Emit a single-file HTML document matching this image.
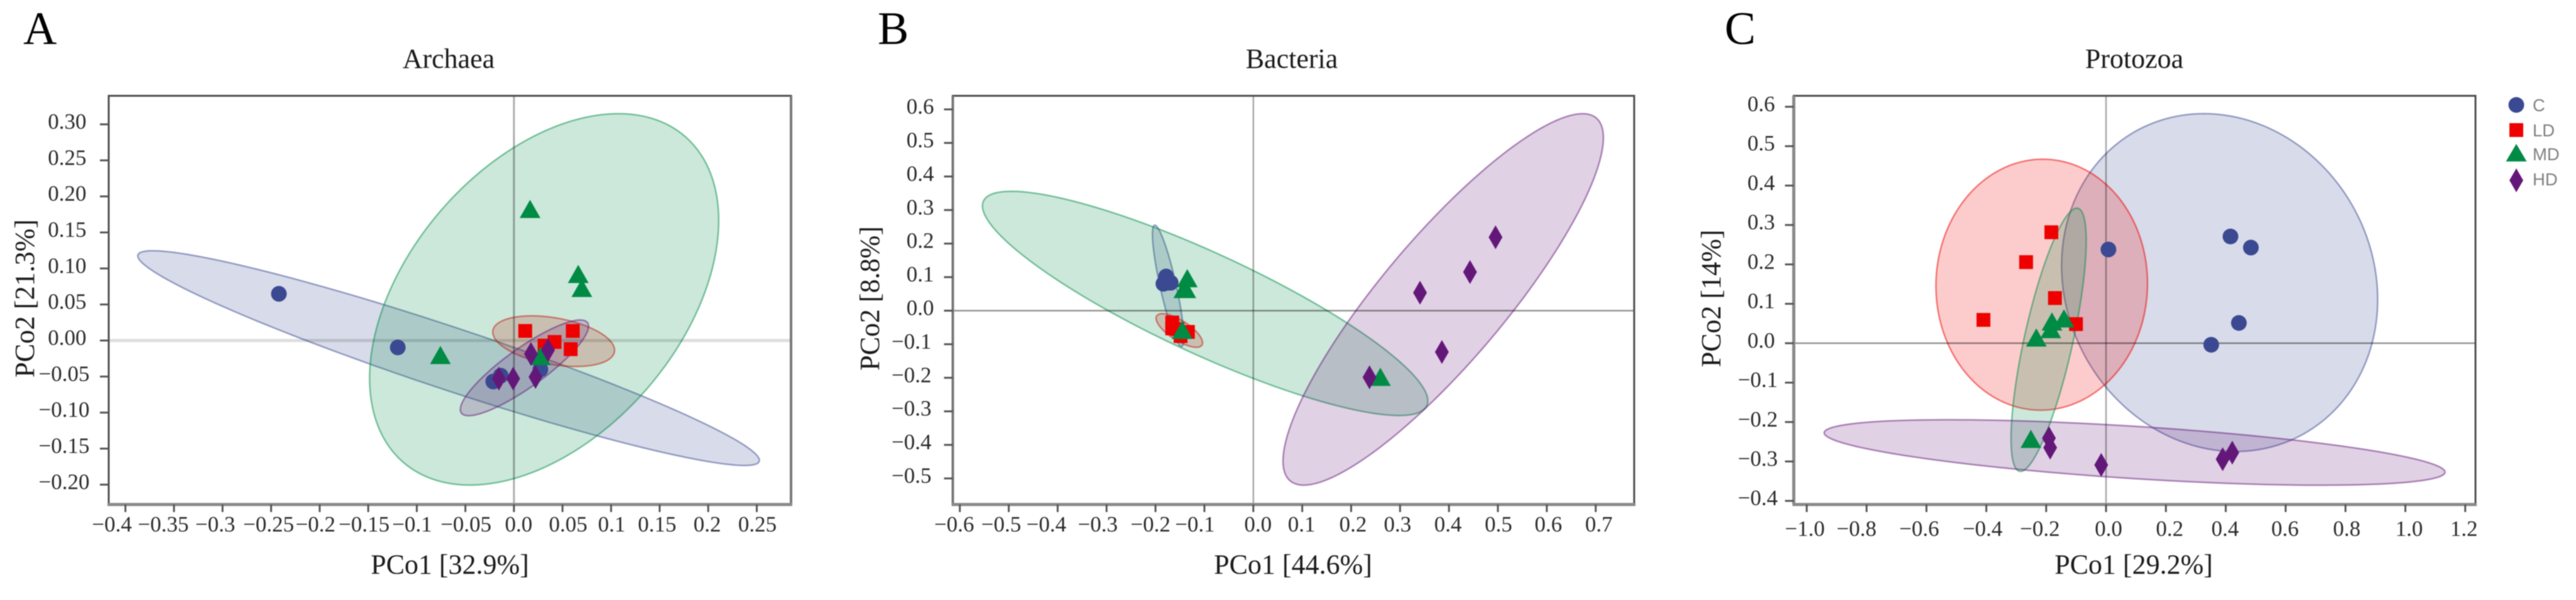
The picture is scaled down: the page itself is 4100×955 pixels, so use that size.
<!DOCTYPE html>
<html lang="en">
<head>
<meta charset="utf-8">
<title>PCoA of Archaea, Bacteria and Protozoa</title>
<style>
html,body{margin:0;padding:0;background:#fff;width:4100px;height:955px;overflow:hidden}
svg{display:block;filter:blur(0.8px)}
text{font-family:"Liberation Serif",serif;fill:#1c1c1c}
.tick{font-size:35px;fill:#2a2a2a}
.axt{font-size:44px;text-anchor:middle;fill:#1a1a1a}
.ttl{font-size:44px;text-anchor:middle;fill:#1a1a1a}
.let{font-size:74px;fill:#000}
.leg{font-family:"Liberation Sans",sans-serif;font-size:27.5px;fill:#808080}
</style>
</head>
<body>
<svg id="fig" width="4100" height="955" viewBox="0 0 4100 955" xmlns="http://www.w3.org/2000/svg">
  <rect width="4100" height="955" fill="#fff"/>
  <text class="let" x="37" y="70">A</text>
  <text class="let" x="1397" y="70">B</text>
  <text class="let" x="2745" y="70">C</text>
  <text class="ttl" x="714" y="108">Archaea</text>
  <text class="ttl" x="2056" y="108">Bacteria</text>
  <text class="ttl" x="3397" y="108">Protozoa</text>
  <text class="axt" x="716" y="913">PCo1 [32.9%]</text>
  <text class="axt" x="2058" y="913">PCo1 [44.6%]</text>
  <text class="axt" x="3396" y="913">PCo1 [29.2%]</text>
  <text class="axt" transform="translate(54 475) rotate(-90)">PCo2 [21.3%]</text>
  <text class="axt" transform="translate(1399 475) rotate(-90)">PCo2 [8.8%]</text>
  <text class="axt" transform="translate(2738 475) rotate(-90)">PCo2 [14%]</text>
  <g id="panels"></g>
  <g>
    <g>
      <circle cx="4005" cy="167" r="12.5" fill="#3B4992"/>
      <text class="leg" x="4031" y="177">C</text>
    </g>
    <g>
      <rect x="3994" y="196" width="22" height="22" fill="#EE0000"/>
      <text class="leg" x="4031" y="217">LD</text>
    </g>
    <g>
      <polygon points="4005,229 4021.5,257 3988.5,257" fill="#008B45"/>
      <text class="leg" x="4031" y="255">MD</text>
    </g>
    <g>
      <polygon points="4005,268 4016,287 4005,306 3994,287" fill="#631879"/>
      <text class="leg" x="4031" y="295">HD</text>
    </g>
  </g>
</svg>
<script>
// ---------- Archaea data ----------
const archaeaXTicks = [-0.4,-0.35,-0.3,-0.25,-0.2,-0.15,-0.1,-0.05,0,0.05,0.1,0.15,0.2,0.25];
const archaeaXLabels = ["−0.4","−0.35","−0.3","−0.25","−0.2","−0.15","−0.1","−0.05","0.0","0.05","0.1","0.15","0.2","0.25"];
const archaeaYTicks = [0.3,0.25,0.2,0.15,0.1,0.05,0,-0.05,-0.1,-0.15,-0.2];
const archaeaYLabels = ["0.30","0.25","0.20","0.15","0.10","0.05","0.00","−0.05","−0.10","−0.15","−0.20"];
const archaeaC = [[-0.242,0.0648],[-0.1196,-0.0096],[-0.0213,-0.0569],[-0.0136,-0.0488],[0.0272,-0.0401]];
const archaeaLD = [[0.0116,0.0133],[0.0315,-0.007],[0.0418,-0.002],[0.0606,0.0133],[0.0584,-0.012]];
const archaeaMD = [[0.0166,0.1826],[0.0662,0.0924],[0.0699,0.073],[-0.0757,-0.02],[0.0272,-0.0215]];
const archaeaHD = [[0.0175,-0.0186],[0.0351,-0.0133],[-0.0155,-0.0529],[-0.0008,-0.0529],[0.0222,-0.0506]];
// ellipse = centre x, centre y, half-range x, half-range y, correlation
const archaeaEllipseC = [-0.0673,-0.0244,0.32,0.149,-0.952];
const archaeaEllipseLD = [0.0409,-0.0009,0.0627,0.0351,-0.36];
const archaeaEllipseMD = [0.0311,0.0571,0.1797,0.2577,0.425];
const archaeaEllipseHD = [0.0108,-0.0379,0.066,0.0664,0.87];

// ---------- Bacteria data ----------
const bacteriaXTicks = [-0.6,-0.5,-0.4,-0.3,-0.2,-0.1,0,0.1,0.2,0.3,0.4,0.5,0.6,0.7];
const bacteriaXLabels = ["−0.6","−0.5","−0.4","−0.3","−0.2","−0.1","0.0","0.1","0.2","0.3","0.4","0.5","0.6","0.7"];
const bacteriaYTicks = [0.6,0.5,0.4,0.3,0.2,0.1,0,-0.1,-0.2,-0.3,-0.4,-0.5];
const bacteriaYLabels = ["0.6","0.5","0.4","0.3","0.2","0.1","0.0","−0.1","−0.2","−0.3","−0.4","−0.5"];
const bacteriaC = [[-0.1783,0.102],[-0.1838,0.0802],[-0.1689,0.0833],[-0.174,0.0833],[-0.178,0.085]];
const bacteriaLD = [[-0.1658,-0.0352],[-0.1658,-0.0528],[-0.1337,-0.0633],[-0.1487,-0.0758],[-0.155,-0.055]];
const bacteriaMD = [[-0.135,0.097],[-0.142,0.0646],[-0.138,0.0646],[-0.1453,-0.0571],[0.2598,-0.197]];
const bacteriaHD = [[0.2375,-0.1984],[0.3408,0.0536],[0.443,0.1152],[0.4952,0.2189],[0.3855,-0.1231]];
const bacteriaEllipseC = [-0.1742,0.074,0.032,0.181,-0.85];
const bacteriaEllipseLD = [-0.1513,-0.059,0.0475,0.05,-0.73];
const bacteriaEllipseMD = [-0.0985,0.0217,0.4553,0.3341,-0.87];
const bacteriaEllipseHD = [0.3882,0.0336,0.3275,0.5536,0.87];

// ---------- Protozoa data ----------
const protozoaXTicks = [-1,-0.8,-0.6,-0.4,-0.2,0,0.2,0.4,0.6,0.8,1,1.2];
const protozoaXLabels = ["−1.0","−0.8","−0.6","−0.4","−0.2","0.0","0.2","0.4","0.6","0.8","1.0","1.2"];
const protozoaYTicks = [0.6,0.5,0.4,0.3,0.2,0.1,0,-0.1,-0.2,-0.3,-0.4];
const protozoaYLabels = ["0.6","0.5","0.4","0.3","0.2","0.1","0.0","−0.1","−0.2","−0.3","−0.4"];
const protozoaC = [[0.008,0.2379],[0.4157,0.2709],[0.4839,0.2427],[0.4438,0.0515],[0.3514,-0.0039]];
const protozoaLD = [[-0.1827,0.2816],[-0.2671,0.2058],[-0.1707,0.1146],[-0.4096,0.0592],[-0.1004,0.0485]];
const protozoaMD = [[-0.1406,0.0631],[-0.1807,0.0553],[-0.1847,0.0359],[-0.2329,0.0146],[-0.251,-0.2427]];
const protozoaHD = [[-0.1908,-0.2408],[-0.1867,-0.265],[-0.0161,-0.3087],[0.3896,-0.2942],[0.4217,-0.2777]];
const protozoaEllipseC = [0.3795,0.1539,0.528,0.4286,-0.1];
const protozoaEllipseLD = [-0.2149,0.1485,0.3534,0.3184,0.01];
const protozoaEllipseMD = [-0.1918,0.0087,0.1255,0.334,0.75];
const protozoaEllipseHD = [0.0954,-0.2772,1.037,0.083,-0.6];

// ---------- Layout (pixels; no data here) ----------
const GROUPS = [
  {key:"c", color:"#3B4992"},
  {key:"ld", color:"#EE0000"},
  {key:"md", color:"#008B45"},
  {key:"hd", color:"#631879"}
];
const panelList = [
  {name:"archaea", L:173, R:1259, T:152.5, B:803, x0:818, kx:1546, y0:542, ky:1147,
   xTicks:archaeaXTicks, xLabels:archaeaXLabels, yTicks:archaeaYTicks, yLabels:archaeaYLabels,
   points:[archaeaC,archaeaLD,archaeaMD,archaeaHD],
   ellipses:[archaeaEllipseC,archaeaEllipseLD,archaeaEllipseMD,archaeaEllipseHD],
   layout:{xLabelShift:[-21.5,-17,-11.6,-4,-6.6,-6.6,-7.5,1,7.5,9,1,-4,-1.6,1], xBase:846, yPosEnd:137.5, yNegEnd:142.5,
     leftW:3, leftC:"#4d4d4d", rightW:4, rightC:"#777", hW:5, hO:0.13, vW:3, vO:0.32}},
  {name:"bacteria", L:1516.5, R:2601, T:152.5, B:803, x0:1994.8, kx:778.5, y0:494.5, ky:534,
   xTicks:bacteriaXTicks, xLabels:bacteriaXLabels, yTicks:bacteriaYTicks, yLabels:bacteriaYLabels,
   points:[bacteriaC,bacteriaLD,bacteriaMD,bacteriaHD],
   ellipses:[bacteriaEllipseC,bacteriaEllipseLD,bacteriaEllipseMD,bacteriaEllipseHD],
   layout:{xLabelShift:[-9,-12,-18,-14,-8,-15,7.5,-1,3,-4,-1.6,1,2.5,5], xBase:846, yPosEnd:1486.5, yNegEnd:1482.5,
     leftW:4, leftC:"#777", rightW:3, rightC:"#4d4d4d", hW:2.5, hO:0.42, vW:2.5, vO:0.34}},
  {name:"protozoa", L:2855, R:3940, T:152.5, B:803, x0:3352, kx:476.4, y0:546.3, ky:627.3,
   xTicks:protozoaXTicks, xLabels:protozoaXLabels, yTicks:protozoaYTicks, yLabels:protozoaYLabels,
   points:[protozoaC,protozoaLD,protozoaMD,protozoaHD],
   ellipses:[protozoaEllipseC,protozoaEllipseLD,protozoaEllipseMD,protozoaEllipseHD],
   layout:{xLabelShift:[-3,-16,-11.5,-6,-10,4,6,-1,-1,2,6,-2], xBase:853, yPosEnd:2825, yNegEnd:2829.5,
     leftW:5, leftC:"#8a8a8a", rightW:3, rightC:"#4d4d4d", hW:2.5, hO:0.42, vW:2.5, vO:0.34}}
];

const NS = "http://www.w3.org/2000/svg";
function make(tag, attrs, parent){
  const el = document.createElementNS(NS, tag);
  for (const k in attrs) el.setAttribute(k, attrs[k]);
  parent.appendChild(el);
  return el;
}

function drawPanel(p){
  const root = document.getElementById("panels");
  const x = v => p.x0 + p.kx * v;
  const y = v => p.y0 - p.ky * v;
  const g = make("g", {}, root);
  
  

  // confidence ellipses, painted in legend order: C, LD, MD, HD
  p.ellipses.forEach((e, i) => {
    const q = Math.sqrt(1 - e[4] * e[4]);
    let d = "";
    for (let s = 0; s < 180; s++){
      const t = s / 180 * 2 * Math.PI;
      const ex = e[0] + e[2] * Math.cos(t);
      const ey = e[1] + e[3] * (e[4] * Math.cos(t) + q * Math.sin(t));
      d += (s ? "L" : "M") + x(ex).toFixed(2) + " " + y(ey).toFixed(2);
    }
    const path = make("path", {d:d + "Z", fill:GROUPS[i].color, "fill-opacity":0.2, stroke:GROUPS[i].color, "stroke-opacity":0.5, "stroke-width":2.5}, g);
    
    
  });

  // zero lines
  const hz = make("line", {x1:p.L, x2:p.R, y1:y(0), y2:y(0), stroke:"#000", "stroke-opacity":p.layout.hO, "stroke-width":p.layout.hW}, g);
  
  
  const vz = make("line", {x1:x(0), x2:x(0), y1:p.T, y2:p.B, stroke:"#000", "stroke-opacity":p.layout.vO, "stroke-width":p.layout.vW}, g);
  
  

  // frame
  const lo = p.layout;
  const top = make("line", {x1:p.L - 1.5, x2:p.R + 1.5, y1:p.T, y2:p.T, stroke:"#4d4d4d", "stroke-width":3}, g);
  
  
  const right = make("line", {x1:p.R, x2:p.R, y1:p.T, y2:p.B, stroke:lo.rightC, "stroke-width":lo.rightW}, g);
  
  
  const left = make("line", {x1:p.L, x2:p.L, y1:p.T, y2:p.B, stroke:lo.leftC, "stroke-width":lo.leftW}, g);
  
  
  const bottom = make("line", {x1:p.L - 2, x2:p.R + 2, y1:p.B, y2:p.B, stroke:"#8a8a8a", "stroke-width":5}, g);
  
  

  // x axis
  p.xTicks.forEach((v, i) => {
    const t = make("line", {x1:x(v), x2:x(v), y1:p.B, y2:p.B + 12, stroke:"#555", "stroke-width":3}, g);
    
    
    const lab = make("text", {"class":"tick", x:x(v) + lo.xLabelShift[i], y:lo.xBase, "text-anchor":"middle"}, g);
    
    
    lab.textContent = p.xLabels[i];
  });

  // y axis
  p.yTicks.forEach((v, i) => {
    const t = make("line", {x1:p.L - 14, x2:p.L, y1:y(v), y2:y(v), stroke:"#555", "stroke-width":3}, g);
    
    
    const lab = make("text", {"class":"tick", x:v < 0 ? lo.yNegEnd : lo.yPosEnd, y:y(v) + 7, "text-anchor":"end"}, g);
    
    
    lab.textContent = p.yLabels[i];
  });

  // sample markers
  p.points[0].forEach(pt => {
    const m = make("circle", {cx:x(pt[0]), cy:y(pt[1]), r:12.5, fill:GROUPS[0].color}, g);
    
    
  });
  p.points[1].forEach(pt => {
    const m = make("rect", {x:x(pt[0]) - 11, y:y(pt[1]) - 11, width:22, height:22, fill:GROUPS[1].color}, g);
    
    
  });
  p.points[2].forEach(pt => {
    const cx = x(pt[0]), cy = y(pt[1]);
    const m = make("polygon", {points:cx + "," + (cy - 14.5) + " " + (cx + 16.5) + "," + (cy + 14.5) + " " + (cx - 16.5) + "," + (cy + 14.5), fill:GROUPS[2].color}, g);
    
    
  });
  p.points[3].forEach(pt => {
    const cx = x(pt[0]), cy = y(pt[1]);
    const m = make("polygon", {points:cx + "," + (cy - 19) + " " + (cx + 11) + "," + cy + " " + cx + "," + (cy + 19) + " " + (cx - 11) + "," + cy, fill:GROUPS[3].color}, g);
    
    
  });
}

panelList.forEach(drawPanel);
</script>
</body>
</html>
